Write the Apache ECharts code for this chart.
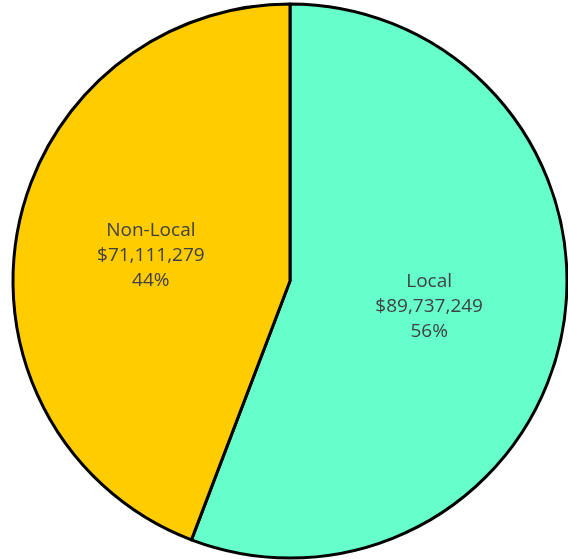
<!DOCTYPE html>
<html><head><meta charset="utf-8">
<script src="https://cdn.jsdelivr.net/npm/echarts@6/dist/echarts.min.js"></script>
<style>html,body{margin:0;padding:0;background:#fff}#c{width:568px;height:560px}</style>
</head><body><div id="c"></div>
<script>
const categories = ["Local", "Non-Local"];
const values = [89737249, 71111279];
const colors = ["#66FFCC", "#FFCC00"];

const chart = echarts.init(document.getElementById('c'), null, {renderer: 'canvas'});
const total = values.reduce((a, b) => a + b, 0);
chart.setOption({
  animation: false,
  series: [{
    type: 'pie',
    center: [290, 281],
    radius: [0, 277],
    startAngle: 90,
    clockwise: true,
    itemStyle: {borderColor: '#000', borderWidth: 3},
    label: {
      show: true,
      position: 'inside',
      color: '#404040',
      fontFamily: 'Open Sans',
      fontSize: 19,
      lineHeight: 25,
      formatter: p => p.name + '\n$' + p.value.toLocaleString('en-US') + '\n' + Math.round(p.value / total * 100) + '%'
    },
    labelLine: {show: false},
    emphasis: {disabled: true},
    data: categories.map((c, i) => ({name: c, value: values[i], itemStyle: {color: colors[i]}}))
  }]
});
</script></body></html>
